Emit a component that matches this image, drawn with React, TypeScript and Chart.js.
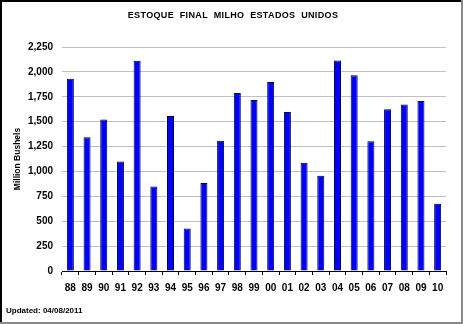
import React, { useEffect, useRef } from "react";
import { Chart, registerables } from "chart.js";

Chart.register(...registerables);

const categories = ["88", "89", "90", "91", "92", "93", "94", "95", "96", "97", "98", "99", "00", "01", "02", "03", "04", "05", "06", "07", "08", "09", "10"];
const endingStocks = [1930, 1344, 1521, 1100, 2113, 850, 1558, 426, 883, 1308, 1787, 1718, 1899, 1596, 1087, 958, 2114, 1967, 1304, 1624, 1673, 1708, 675];
const yTicks = [0, 250, 500, 750, 1000, 1250, 1500, 1750, 2000, 2250];

const titleText = "ESTOQUE  FINAL  MILHO  ESTADOS  UNIDOS";
const yAxisTitle = "Million Bushels";
const footerText = "Updated: 04/08/2011";

const FONT = "'Liberation Sans', Arial, sans-serif";

const decorPlugin = {
  id: "decor",
  beforeDraw(chart: any) {
    const ctx = chart.ctx;
    ctx.save();
    ctx.fillStyle = "#ffffff";
    ctx.fillRect(0, 0, chart.width, chart.height);
    ctx.restore();
  },
  afterDraw(chart: any) {
    const ctx = chart.ctx;
    const w = chart.width;
    const h = chart.height;
    ctx.save();
    // frame
    ctx.fillStyle = "#000000";
    ctx.fillRect(0, 0, w, 2);
    ctx.fillRect(0, 0, 2, h);
    ctx.fillStyle = "#8a8a8a";
    ctx.fillRect(w - 2, 0, 2, h);
    ctx.fillRect(0, h - 2, w, 2);

    // title
    ctx.fillStyle = "#000000";
    ctx.font = `bold 9px ${FONT}`;
    ctx.textAlign = "center";
    ctx.textBaseline = "middle";
    try { (ctx as any).letterSpacing = "0.35px"; } catch (e) {}
    ctx.fillText(titleText, 233, 16);
    try { (ctx as any).letterSpacing = "0px"; } catch (e) {}

    // y axis title
    ctx.save();
    ctx.translate(18, 159);
    ctx.rotate(-Math.PI / 2);
    ctx.font = `bold 8.5px ${FONT}`;
    ctx.textAlign = "center";
    ctx.textBaseline = "middle";
    ctx.fillText(yAxisTitle, 0, 0);
    ctx.restore();

    // footer
    ctx.font = `bold 8px ${FONT}`;
    ctx.textAlign = "left";
    ctx.textBaseline = "middle";
    ctx.fillText(footerText, 6, 311);
    ctx.restore();
  },
};

export default function App() {
  const ref = useRef<HTMLCanvasElement | null>(null);

  useEffect(() => {
    document.body.style.margin = "0";
    if (!ref.current) return;
    const chart = new Chart(ref.current, {
      type: "bar",
      data: {
        labels: categories,
        datasets: [
          {
            data: endingStocks,
            backgroundColor: "#0000ff",
            borderColor: "#000033",
            borderWidth: 1,
            categoryPercentage: 1,
            barPercentage: 0.42,
          },
        ],
      },
      options: {
        responsive: false,
        animation: false,
        layout: { padding: { top: 47, right: 17, bottom: 0, left: 0 } },
        plugins: {
          legend: { display: false },
          tooltip: { enabled: false },
          title: { display: false },
        },
        scales: {
          x: {
            offset: true,
            grid: {
              offset: true,
              drawOnChartArea: false,
              drawTicks: true,
              tickLength: 4,
              color: "#000000",
            },
            border: { display: true, color: "#000000", width: 1 },
            ticks: {
              color: "#000000",
              font: { family: FONT, size: 10, weight: "bold" },
              padding: 7,
              maxRotation: 0,
              autoSkip: false,
            },
            afterFit(axis: any) {
              axis.height = 53;
            },
          },
          y: {
            min: 0,
            max: 2250,
            afterBuildTicks(axis: any) {
              axis.ticks = yTicks.map((v) => ({ value: v }));
            },
            grid: {
              drawTicks: false,
              color: "#c0c0c0",
              lineWidth: 1,
            },
            border: { display: false },
            ticks: {
              color: "#000000",
              font: { family: FONT, size: 10, weight: "bold" },
              padding: 9,
              callback: (v: any) => Number(v).toLocaleString("en-US"),
            },
            afterFit(axis: any) {
              axis.width = 62;
            },
          },
        },
      },
      plugins: [decorPlugin],
    });
    return () => chart.destroy();
  }, []);

  return (
    <div style={{ width: 463, height: 324 }}>
      <canvas ref={ref} width={463} height={324} style={{ display: "block" }} />
    </div>
  );
}
